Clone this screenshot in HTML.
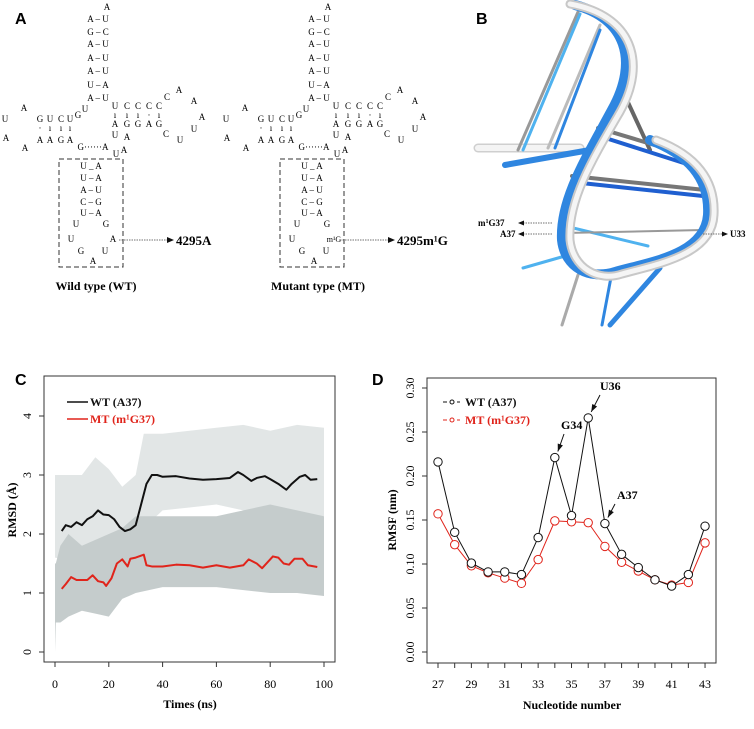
<!DOCTYPE html>
<html><head><meta charset="utf-8"><style>
body{margin:0;background:#fff;}
svg text{font-family:"Liberation Serif",serif;}
.sans{font-family:"Liberation Sans",sans-serif !important;font-weight:bold;}
.nt{font-size:9px;}
</style></head><body>
<svg id="fig" width="754" height="724" viewBox="0 0 754 724" xmlns="http://www.w3.org/2000/svg">
<g id="panelA"></g>
<g id="panelB">
  <text class="sans" x="476" y="24" font-size="16">B</text>
  <g fill="none" stroke-linecap="round">
    <path d="M478,148 L580,148" stroke="#cfcfcf" stroke-width="9"/>
    <path d="M478,148 L580,148" stroke="#f4f4f4" stroke-width="6"/>
    <path d="M505,165 L590,150" stroke="#2f86e0" stroke-width="6"/>
    <line x1="518" y1="150" x2="578" y2="12" stroke="#999" stroke-width="3"/>
    <line x1="523" y1="150" x2="580" y2="14" stroke="#4fb2ef" stroke-width="3"/>
    <line x1="548" y1="148" x2="600" y2="25" stroke="#bbb" stroke-width="3"/>
    <line x1="555" y1="148" x2="600" y2="30" stroke="#2f86e0" stroke-width="3"/>
    <line x1="620" y1="85" x2="650" y2="150" stroke="#666" stroke-width="4"/>
    <line x1="598" y1="128" x2="688" y2="155" stroke="#777" stroke-width="4"/>
    <line x1="596" y1="135" x2="690" y2="165" stroke="#1f5fd0" stroke-width="4"/>
    <line x1="572" y1="176" x2="705" y2="190" stroke="#777" stroke-width="4"/>
    <line x1="572" y1="182" x2="703" y2="196" stroke="#1f5fd0" stroke-width="4"/>
    <line x1="565" y1="226" x2="648" y2="246" stroke="#4fb2ef" stroke-width="3"/>
    <line x1="565" y1="233" x2="703" y2="230" stroke="#999" stroke-width="2"/>
    <line x1="523" y1="268" x2="565" y2="256" stroke="#4fb2ef" stroke-width="3"/>
    <line x1="578" y1="275" x2="562" y2="325" stroke="#aaa" stroke-width="3"/>
    <line x1="612" y1="272" x2="602" y2="325" stroke="#2f86e0" stroke-width="3"/>
    <path d="M610,325 L660,268" stroke="#2f86e0" stroke-width="5"/>
    <path d="M575,5 C625,18 640,60 612,110 C585,160 560,200 562,240 C565,268 590,280 615,272 C650,262 705,255 708,215 C710,180 690,155 650,140" stroke="#2f86e0" stroke-width="10"/>
    <path d="M570,4 C632,15 648,62 620,112 C592,160 568,200 570,240 C573,268 598,282 622,274 C658,264 712,255 714,215 C716,180 696,155 656,140" stroke="#c8c8c8" stroke-width="9"/>
    <path d="M570,4 C632,15 648,62 620,112 C592,160 568,200 570,240 C573,268 598,282 622,274 C658,264 712,255 714,215 C716,180 696,155 656,140" stroke="#f5f5f5" stroke-width="5"/>
  </g>
  <g font-size="9" font-weight="bold">
    <text x="478" y="226">m<tspan font-size="6" dy="-3">1</tspan><tspan dy="3">G37</tspan></text>
    <text x="500" y="237">A37</text>
    <text x="730" y="237">U33</text>
  </g>
  <g stroke="#444" stroke-dasharray="1.5,1" stroke-width="0.8">
    <line x1="523" y1="223" x2="552" y2="223"/><line x1="523" y1="234" x2="552" y2="234"/><line x1="703" y1="234" x2="722" y2="234"/>
  </g>
  <g fill="#111"><path d="M518,223 l6,-2.5 v5z"/><path d="M518,234 l6,-2.5 v5z"/><path d="M728,234 l-6,-2.5 v5z"/></g>
</g>
<g id="panelC"></g>
<g id="panelD"></g>
</svg>
<script>
const NS="http://www.w3.org/2000/svg";
function mk(parent,tag,attrs,text){const e=document.createElementNS(NS,tag);for(const k in attrs)e.setAttribute(k,attrs[k]);if(text!==undefined)e.textContent=text;parent.appendChild(e);return e;}

// ---------- Panel A ----------
const A=document.getElementById('panelA');
const t0=mk(A,'text',{x:15,y:24,class:'sans','font-size':16});t0.textContent='A';


const ntItems=[[107,7,'A'],[98,19,'A – U'],[98,32,'G – C'],[98,44,'A – U'],[98,58,'A – U'],[98,71,'A – U'],[98,85,'U – A'],[98,98,'A – U'],
[115,106,'U'],[127,106,'C'],[138,106,'C'],[149,106,'C'],[159,106,'C'],[167,97,'C'],[179,90,'A'],[194,101,'A'],[202,117,'A'],[194,129,'U'],[180,140,'U'],[166,134,'C'],
[115,115,'ı'],[127,115,'ı'],[138,115,'ı'],[149,115,'·'],[159,115,'ı'],
[115,124,'A'],[127,124,'G'],[138,124,'G'],[149,124,'A'],[159,124,'G'],[115,135,'U'],[127,137,'A'],[116,154,'U'],[124,150,'A'],
[93,147,'G······A'],[40,119,'G'],[50,119,'U'],[61,119,'C'],[70,119,'U'],[78,115,'G'],[85,109,'U'],
[40,128,'·'],[50,128,'ı'],[61,128,'ı'],[70,128,'ı'],[40,140,'A'],[50,140,'A'],[61,140,'G'],[70,140,'A'],
[24,108,'A'],[5,119,'U'],[6,138,'A'],[25,148,'A'],
[91,166,'U _ A'],[91,178,'U – A'],[91,190,'A – U'],[91,202,'C – G'],[91,213,'U – A'],[76,224,'U'],[106,224,'G'],[71,239,'U'],[81,251,'G'],[105,251,'U'],[93,261,'A']];
[0,221].forEach((off,i)=>{
  const g=mk(A,'g',{transform:'translate('+off+',0)'});
  
  
  ntItems.forEach(it=>{const t=mk(g,'text',{x:it[0],y:it[1]+3,'text-anchor':'middle',class:'nt'},it[2]);
    
    });
  const r=mk(g,'rect',{x:59,y:159,width:64,height:108,fill:'none',stroke:'#333','stroke-width':1,'stroke-dasharray':'5,3'});
  
  
  if(i===0){const t=mk(g,'text',{x:113,y:242,'text-anchor':'middle',class:'nt'},'A');
    
    }
  else{const t=mk(g,'text',{x:113,y:242,'text-anchor':'middle','font-size':8},'m¹G');
    
    }
  mk(g,'line',{x1:119,y1:240,x2:168,y2:240,stroke:'#444','stroke-dasharray':'1.5,1','stroke-width':0.8});
  mk(g,'path',{d:'M174,240 l-7,-3 v6z',fill:'#111'});
  const lb=mk(g,'text',{x:176,y:245,'font-size':13,'font-weight':'bold'},i?'4295m¹G':'4295A');
  
  
  const cap=mk(g,'text',{x:i?97:96,y:290,'text-anchor':'middle','font-size':12,'font-weight':'bold'},i?'Mutant type (MT)':'Wild type (WT)');
  
  
});

// ---------- Panel C data ----------
const rmsdWtTime=[2.5,4,6,8,10,12,14,16,18,20,22,24,26,28,30,32,34,36,38,40,45,50,55,60,65,68,70,73,75,78,80,83,86,88,91,93,95,97.5];
const rmsdWtVal=[2.05,2.15,2.12,2.2,2.15,2.25,2.3,2.4,2.33,2.32,2.25,2.12,2.05,2.08,2.15,2.5,2.85,3.0,3.0,2.97,2.98,2.94,2.92,2.93,2.95,3.05,3.0,2.9,2.95,2.98,2.93,2.85,2.75,2.85,2.97,3.0,2.92,2.93];
const rmsdMtTime=[2.5,4,6,8,10,12,14,16,18,19,21,23,25,27,28,30,33,34,36,40,45,50,55,60,65,70,72,75,77,79,81,83,85,87,89,92,94,97.5];
const rmsdMtVal=[1.07,1.15,1.27,1.22,1.22,1.22,1.3,1.2,1.18,1.12,1.25,1.5,1.57,1.45,1.58,1.6,1.65,1.47,1.45,1.45,1.48,1.47,1.43,1.47,1.43,1.47,1.57,1.5,1.42,1.52,1.62,1.6,1.5,1.48,1.58,1.58,1.47,1.44];
const bandWtTime=[0,5,10,15,20,25,30,33,40,50,60,70,80,90,100];
const bandWtUpper=[3.0,3.0,3.0,3.3,3.1,2.8,3.0,3.7,3.7,3.75,3.8,3.85,3.75,3.85,3.8];
const bandWtLower=[1.6,1.55,1.5,1.5,1.5,1.6,1.8,2.1,2.4,2.45,2.5,2.4,2.3,2.35,2.3];
const bandMtTime=[0,0.3,2,5,10,15,20,25,30,40,60,80,90,100];
const bandMtUpper=[1.5,1.5,1.8,2.0,1.8,1.9,2.0,2.1,2.3,2.3,2.3,2.5,2.4,2.3];
const bandMtLower=[0.0,0.5,0.5,0.6,0.7,0.65,0.6,0.9,1.0,1.1,1.1,1.0,1.0,0.95];
const cXTicks=[0,20,40,60,80,100];
const cYTicks=[0,1,2,3,4];

const C=document.getElementById('panelC');
const xC=t=>55+t*2.69, yC=v=>652-v*59;
const cl=mk(C,'text',{x:15,y:385,class:'sans','font-size':16},'C');


function band(par,ts,up,lo,col,name){let d='M'+ts.map((t,i)=>xC(t)+','+yC(up[i])).join(' L');
  for(let i=ts.length-1;i>=0;i--)d+=' L'+xC(ts[i])+','+yC(lo[i]);
  const p=mk(par,'path',{d:d+'Z',fill:col});
  
  }
band(C,bandWtTime,bandWtUpper,bandWtLower,'#e2e6e6','wt-raw-band');
band(C,bandMtTime,bandMtUpper,bandMtLower,'#c5cccc','mt-raw-band');
function line(par,xs,ys,fx,fy,col,w,name){const p=mk(par,'polyline',{points:xs.map((x,i)=>fx(x)+','+fy(ys[i])).join(' '),fill:'none',stroke:col,'stroke-width':w,'stroke-linejoin':'round'});
  
  return p;}
line(C,rmsdWtTime,rmsdWtVal,xC,yC,'#111',2,'wt-rmsd-line');
line(C,rmsdMtTime,rmsdMtVal,xC,yC,'#e0241b',2,'mt-rmsd-line');
const cf=mk(C,'rect',{x:44,y:376,width:291,height:286,fill:'none',stroke:'#333','stroke-width':1});


cXTicks.forEach(t=>{mk(C,'line',{x1:xC(t),y1:662,x2:xC(t),y2:667,stroke:'#333'});
  const tx=mk(C,'text',{x:xC(t),y:688,'text-anchor':'middle','font-size':12},t);
  
  });
cYTicks.forEach(v=>{mk(C,'line',{x1:39,y1:yC(v),x2:44,y2:yC(v),stroke:'#333'});
  const tx=mk(C,'text',{x:0,y:0,'text-anchor':'middle','font-size':12,transform:'translate(31,'+yC(v)+') rotate(-90)'},v);
  
  });
const cxt=mk(C,'text',{x:190,y:708,'text-anchor':'middle','font-size':12,'font-weight':'bold'},'Times (ns)');


const cyt=mk(C,'text',{x:0,y:0,'text-anchor':'middle','font-size':12,'font-weight':'bold',transform:'translate(16,510) rotate(-90)'},'RMSD (Å)');


[['#111','WT (A37)',402],['#e0241b','MT (m¹G37)',419]].forEach(l=>{
  const g=mk(C,'g',{});
  
  
  mk(g,'line',{x1:67,y1:l[2],x2:88,y2:l[2],stroke:l[0],'stroke-width':1.5});
  mk(g,'text',{x:90,y:l[2]+4,'font-size':12,'font-weight':'bold',fill:l[0]},l[1]);});

// ---------- Panel D data ----------
const nucleotides=[27,28,29,30,31,32,33,34,35,36,37,38,39,40,41,42,43];
const rmsfWt=[0.216,0.136,0.101,0.091,0.091,0.088,0.130,0.221,0.155,0.266,0.146,0.111,0.096,0.082,0.075,0.088,0.143];
const rmsfMt=[0.157,0.122,0.098,0.090,0.084,0.078,0.105,0.149,0.148,0.147,0.120,0.102,0.092,0.082,0.076,0.079,0.124];
const dXLabels=[27,29,31,33,35,37,39,41,43];
const dYTicks=[0,0.05,0.10,0.15,0.20,0.25,0.30];
const dYTickLabels=['0.00','0.05','0.10','0.15','0.20','0.25','0.30'];

const D=document.getElementById('panelD');
const xD=n=>438+(n-27)*16.69, yD=v=>652-v*880;
const dl=mk(D,'text',{x:372,y:385,class:'sans','font-size':16},'D');


const df=mk(D,'rect',{x:427,y:378,width:289,height:285,fill:'none',stroke:'#333','stroke-width':1});


[[rmsfMt,'#e0241b','mt'],[rmsfWt,'#111','wt']].forEach(s=>{
  line(D,nucleotides,s[0],xD,yD,s[1],1,s[2]+'-rmsf-line');
  nucleotides.forEach((n,i)=>{const c=mk(D,'circle',{cx:xD(n),cy:yD(s[0][i]),r:4.2,fill:'#fff',stroke:s[1],'stroke-width':1});
    
    });});
nucleotides.forEach(n=>mk(D,'line',{x1:xD(n),y1:663,x2:xD(n),y2:668,stroke:'#333'}));
dXLabels.forEach(n=>{const tx=mk(D,'text',{x:xD(n),y:688,'text-anchor':'middle','font-size':12},n);
  
  });
dYTicks.forEach((v,i)=>{mk(D,'line',{x1:422,y1:yD(v),x2:427,y2:yD(v),stroke:'#333'});
  const tx=mk(D,'text',{x:0,y:0,'text-anchor':'middle','font-size':12,transform:'translate(414,'+yD(v)+') rotate(-90)'},dYTickLabels[i]);
  
  });
const dxt=mk(D,'text',{x:572,y:709,'text-anchor':'middle','font-size':12,'font-weight':'bold'},'Nucleotide number');


const dyt=mk(D,'text',{x:0,y:0,'text-anchor':'middle','font-size':12,'font-weight':'bold',transform:'translate(396,520) rotate(-90)'},'RMSF (nm)');


[['#111','WT (A37)',402],['#e0241b','MT (m¹G37)',420]].forEach(l=>{
  const g=mk(D,'g',{});
  
  
  mk(g,'line',{x1:443,y1:l[2],x2:460,y2:l[2],stroke:l[0],'stroke-width':1,'stroke-dasharray':'4,3'});
  mk(g,'circle',{cx:452,cy:l[2],r:2,fill:'#fff',stroke:l[0]});
  mk(g,'text',{x:465,y:l[2]+4,'font-size':12,'font-weight':'bold',fill:l[0]},l[1]);});
[['U36',36,0.266,600,390],['G34',34,0.221,561,429],['A37',37,0.146,617,499]].forEach(a=>{
  const g=mk(D,'g',{});
  
  
  mk(g,'text',{x:a[3],y:a[4],'font-size':12,'font-weight':'bold'},a[0]);
  const tx=xD(a[1])+3, ty=yD(a[2])-6, sx=a[3]+ (a[0]==='G34'?3:(a[0]==='A37'?-2:0)), sy=a[4]+5;
  mk(g,'line',{x1:sx,y1:sy,x2:tx,y2:ty,stroke:'#111','stroke-width':1});
  const ang=Math.atan2(ty-sy,tx-sx);
  const p1=[tx-8*Math.cos(ang-0.35),ty-8*Math.sin(ang-0.35)],p2=[tx-8*Math.cos(ang+0.35),ty-8*Math.sin(ang+0.35)];
  mk(g,'path',{d:`M${tx},${ty} L${p1} L${p2}Z`,fill:'#111'});});
</script>
</body></html>
